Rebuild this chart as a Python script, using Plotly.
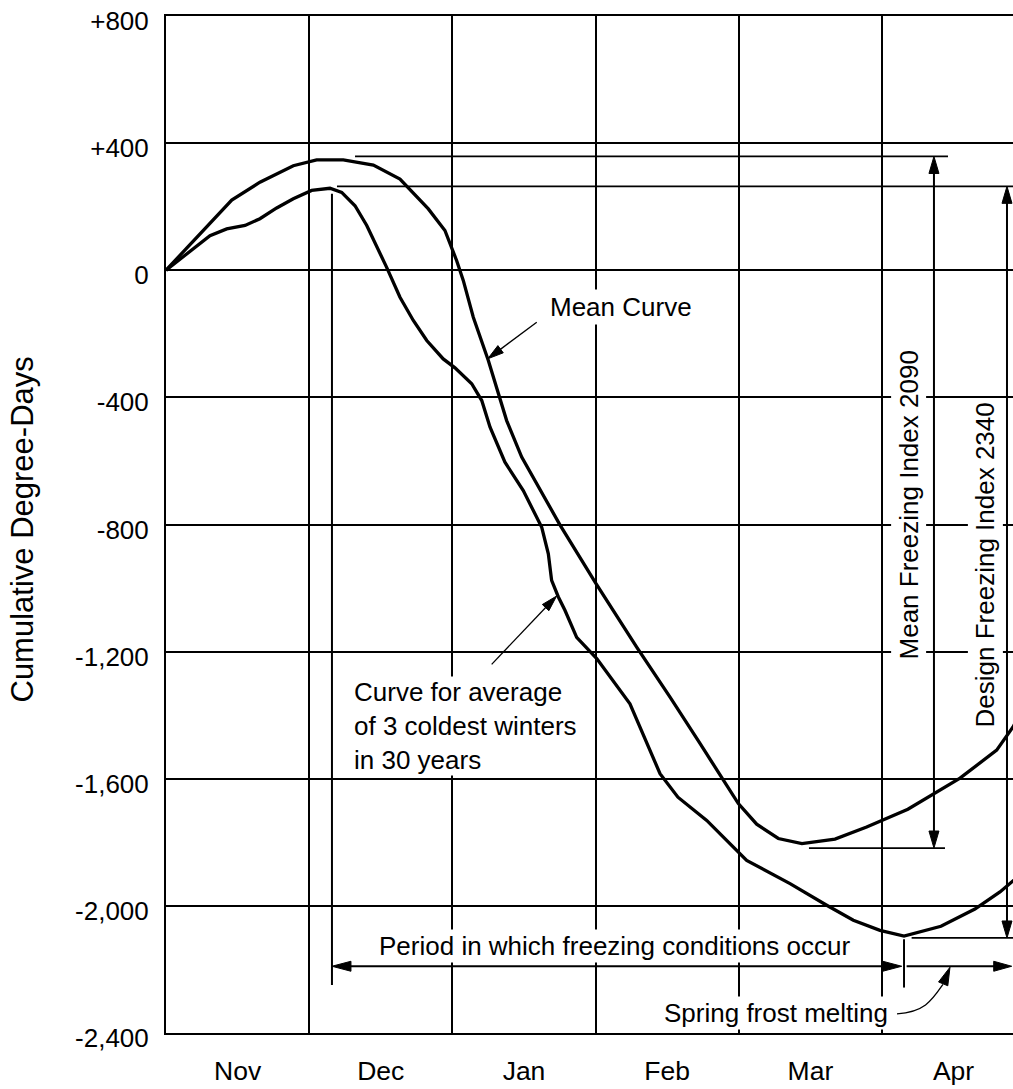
import math
import plotly.graph_objects as go

# ---------------- data ----------------
months = ["Nov", "Dec", "Jan", "Feb", "Mar", "Apr"]
month_centers = [0.5, 1.5, 2.5, 3.5, 4.5, 5.5]
month_bounds = [1, 2, 3, 4, 5]
y_tickvals = [-2400, -2000, -1600, -1200, -800, -400, 0, 400, 800]
y_ticktext = ["-2,400", "-2,000", "-1,600", "-1,200", "-800", "-400", "0", "+400", "+800"]

# x in months after Nov 1, y in cumulative degree-days
mean_x = [0.0, 0.26, 0.459, 0.656, 0.889, 1.052, 1.238, 1.448, 1.634, 1.832, 1.948,
          2.03, 2.076, 2.146, 2.251, 2.379, 2.484, 2.751, 3.003, 3.287, 3.52, 3.729,
          3.892, 3.997, 4.125, 4.276, 4.441, 4.672, 4.893, 5.181, 5.545, 5.801, 5.915, 5.96]
mean_y = [0, 125, 221, 277, 329, 347, 347, 331, 287, 193, 125,
          30, -32, -148, -284, -473, -588, -801, -986, -1186, -1343, -1489,
          -1605, -1678, -1743, -1788, -1804, -1790, -1752, -1696, -1598, -1510, -1437, -1400]

cold_x = [0.0, 0.307, 0.424, 0.552, 0.656, 0.773, 0.889, 1.017, 1.145, 1.227, 1.32,
          1.402, 1.541, 1.634, 1.727, 1.821, 1.936, 2.018, 2.135, 2.205, 2.263, 2.367,
          2.495, 2.624, 2.67, 2.693, 2.74, 2.786, 2.868, 3.008, 3.24, 3.357, 3.45, 3.575,
          3.776, 4.055, 4.358, 4.614, 4.8, 4.986, 5.154, 5.412, 5.649, 5.824, 5.915, 5.964]
cold_y = [0, 109, 130, 141, 162, 196, 225, 251, 258, 245, 203,
          141, 9, -85, -158, -221, -279, -307, -357, -410, -494, -604,
          -693, -809, -892, -976, -1028, -1070, -1155, -1222, -1364, -1489, -1584, -1658,
          -1731, -1857, -1930, -1998, -2045, -2077, -2095, -2064, -2010, -1956, -1922, -1903]

mean_top = 358          # level of mean-curve peak
mean_bottom = -1818     # level of mean-curve minimum
design_top = 264        # level of design-curve peak
design_bottom = -2101   # level of design-curve minimum
mean_arrow_x = 5.363
design_arrow_x = 5.873
freeze_start = 1.159
freeze_end = 5.138
melt_start = 5.172
melt_end = 5.906
period_y = -2190

# ---------------- geometry ----------------
W, H = 1013, 1089
ML, MR, MT, MB = 166, 0, 16, 56
X_RANGE = [0, 5.915]
Y_RANGE = [-2400, 800]
SX = (W - ML - MR) / (X_RANGE[1] - X_RANGE[0])   # px per month
SY = (H - MT - MB) / (Y_RANGE[1] - Y_RANGE[0])   # px per degree-day

FONT = "Liberation Sans, Arial, sans-serif"
shapes = []


def line(x0, y0, x1, y1, w=2.0):
    shapes.append(dict(type="line", xref="x", yref="y", x0=x0, y0=y0, x1=x1, y1=y1,
                       line=dict(color="black", width=w)))


def head(xt, yt, xf, yf, L=17, Wd=10):
    """filled arrowhead with tip at (xt,yt) pointing away from (xf,yf)."""
    dxp = (xt - xf) * SX
    dyp = -(yt - yf) * SY
    n = math.hypot(dxp, dyp)
    ux, uy = dxp / n, dyp / n
    bx, by = -ux * L, -uy * L
    px_, py_ = -uy * Wd / 2, ux * Wd / 2
    pts = [(0, 0), (bx + px_, by + py_), (bx - px_, by - py_)]
    d = "M" + " L".join(f"{xt + a / SX},{yt - b / SY}" for a, b in pts) + " Z"
    shapes.append(dict(type="path", xref="x", yref="y", path=d, fillcolor="black",
                       line=dict(color="black", width=1)))
    return xt - ux * L * 0.8 / SX, yt + uy * L * 0.8 / SY


def arrow(x0, y0, x1, y1, w=2.0, both=False, L=17, Wd=10):
    bx1, by1 = head(x1, y1, x0, y0, L, Wd)
    if both:
        bx0, by0 = head(x0, y0, x1, y1, L, Wd)
    else:
        bx0, by0 = x0, y0
    line(bx0, by0, bx1, by1, w)


# index level lines
line(1.32, mean_top, 5.461, mean_top, 1.8)
line(1.194, design_top, 6.0, design_top, 1.8)
line(4.49, mean_bottom, 5.44, mean_bottom, 1.8)
line(5.207, design_bottom, 6.0, design_bottom, 1.8)

# vertical index arrows
arrow(mean_arrow_x, mean_top, mean_arrow_x, mean_bottom, 2.0, both=True)
arrow(design_arrow_x, design_top, design_arrow_x, design_bottom, 2.0, both=True)

# freezing period / melting arrows
line(freeze_start, 241, freeze_start, -2249, 2.0)
line(5.154, -2105, 5.154, -2257, 2.0)
arrow(freeze_start, period_y, freeze_end, period_y, 2.0, both=True, L=19, Wd=10)
arrow(melt_start, period_y, melt_end, period_y, 2.0, L=18, Wd=10)

# pointers
arrow(2.589, -163.5, 2.247, -278.6, 1.3, L=16, Wd=9)
arrow(2.274, -1240, 2.728, -1025, 1.3, L=16, Wd=9)

# curved leader for spring frost melting
shapes.append(dict(type="path", xref="x", yref="y",
                   path="M5.105,-2340 C5.300,-2334 5.349,-2297 5.426,-2247",
                   line=dict(color="black", width=1.3)))
head(5.475, -2193, 5.426, -2247, 18, 10)

fig = go.Figure()
fig.add_trace(go.Scatter(x=mean_x, y=mean_y, mode="lines",
                         line=dict(color="black", width=3.3), hoverinfo="skip"))
fig.add_trace(go.Scatter(x=cold_x, y=cold_y, mode="lines",
                         line=dict(color="black", width=3.3), hoverinfo="skip"))

ann_font = dict(family=FONT, size=26, color="black")
annotations = [
    dict(x=3.175, y=-116, text="Mean Curve", showarrow=False, font=ann_font,
         bgcolor="white", borderpad=2),
    dict(x=1.304, y=-1434, xanchor="left", align="left",
         text="Curve for average<br>of 3 coldest winters<br>in 30 years",
         showarrow=False, font=ann_font, bgcolor="white", borderpad=0),
    dict(x=3.132, y=-2127, text="Period in which freezing conditions occur",
         showarrow=False, font=ann_font, bgcolor="white", borderpad=1),
    dict(x=5.056, y=-2337, xanchor="right", text="Spring frost melting",
         showarrow=False, font=ann_font, bgcolor="white", borderpad=1),
    dict(x=5.189, y=-740, text="Mean Freezing Index 2090", textangle=-90,
         showarrow=False, font=ann_font, bgcolor="white", borderpad=2),
    dict(x=5.719, y=-926, text="Design Freezing Index 2340", textangle=-90,
         showarrow=False, font=ann_font, bgcolor="white", borderpad=2),
    dict(xref="paper", yref="paper", x=-0.1694, y=0.4946, xanchor="center",
         yanchor="middle", text="Cumulative Degree-Days",
         textangle=-90, showarrow=False, font=dict(family=FONT, size=31, color="black")),
]
for a in annotations:
    a.setdefault("xref", "x")
    a.setdefault("yref", "y")

fig.update_layout(
    width=W, height=H, autosize=False,
    margin=dict(l=ML, r=MR, t=MT, b=MB, pad=0, autoexpand=False),
    paper_bgcolor="white", plot_bgcolor="white",
    showlegend=False,
    font=dict(family=FONT, size=26, color="black"),
    shapes=shapes,
    annotations=annotations,
    xaxis=dict(range=X_RANGE, tickmode="array", tickvals=month_centers, ticktext=months,
               showgrid=False, zeroline=False, ticks="", showline=True, mirror=True,
               linecolor="black", linewidth=2, tickfont=dict(size=26.5),
               ticklabelstandoff=13, fixedrange=True, automargin=False,
               minor=dict(tickmode="array", tickvals=month_bounds, showgrid=True,
                          gridcolor="black", gridwidth=2, ticks="")),
    yaxis=dict(range=Y_RANGE, tickmode="array", tickvals=y_tickvals, ticktext=y_ticktext,
               showgrid=True, gridcolor="black", gridwidth=2, zeroline=False, ticks="",
               showline=True, mirror=False, linecolor="black", linewidth=2,
               tickfont=dict(size=26), ticklabelstandoff=10, ticklabelshift=5,
               fixedrange=True, automargin=False),
)

fig.write_html("out.html", config={"displayModeBar": False},
               post_script="document.body.style.margin='0';")
